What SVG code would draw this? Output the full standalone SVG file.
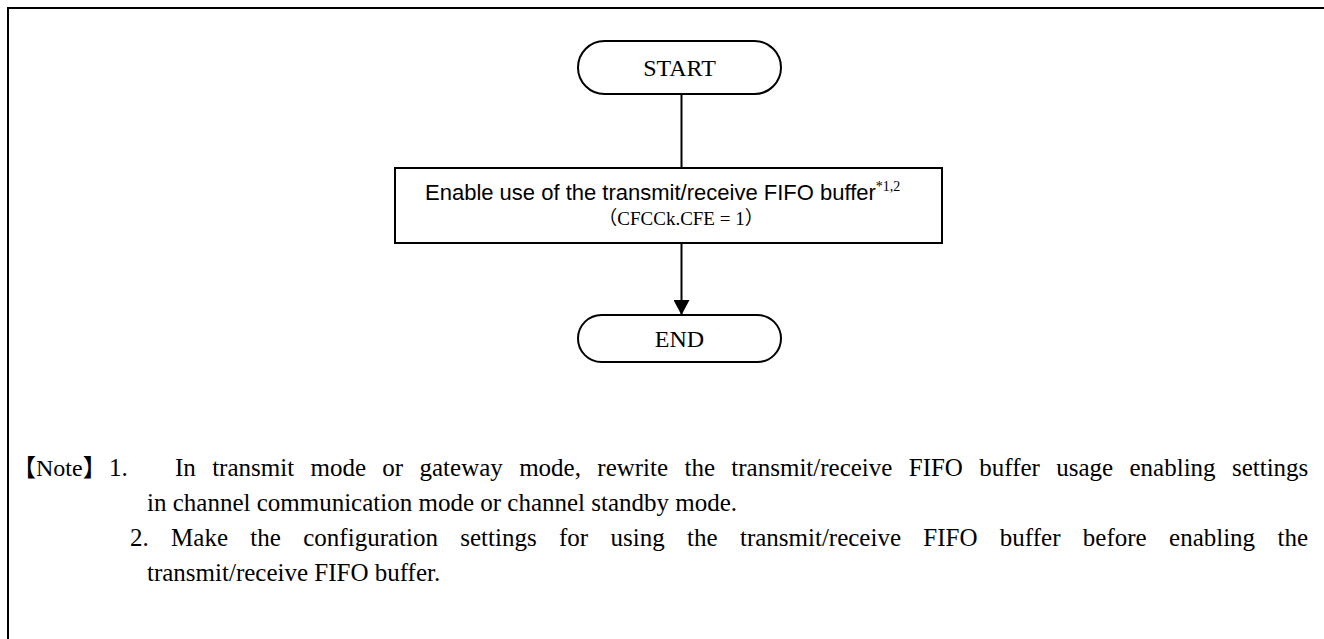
<svg xmlns="http://www.w3.org/2000/svg" width="1324" height="639" viewBox="0 0 1324 639">
<style>
.term{fill:#fff;stroke:#000;stroke-width:2}
.box{fill:#fff;stroke:#000;stroke-width:2}
.serif{font-family:"Liberation Serif","Noto Sans CJK JP",serif;fill:#000}
.sans{font-family:"Liberation Sans",Arial,sans-serif;fill:#000}
.conn{stroke:#000;stroke-width:2;fill:none}
</style>
<defs>
<marker id="arr" markerWidth="16" markerHeight="16" refX="15" refY="8" orient="auto" markerUnits="userSpaceOnUse">
<path d="M0,0 L15,8 L0,16 Z" fill="#000"/>
</marker>
</defs>
<rect width="1324" height="639" fill="#fff"/>
<path d="M8,639 V8 H1324" fill="none" stroke="#000" stroke-width="2"/>
<g id="connectors">
<line class="conn" x1="681.5" y1="94" x2="681.5" y2="168"/>
<line class="conn" x1="681.5" y1="243" x2="681.5" y2="315" marker-end="url(#arr)"/>
</g>
<g id="start">
<rect class="term" x="578" y="41" width="203" height="53" rx="26.5"/>
<text class="serif" x="679.5" y="76" font-size="24" text-anchor="middle">START</text>
</g>
<g id="enable">
<rect class="box" x="395" y="168" width="547" height="75"/>
<text class="sans" x="425" y="200" font-size="22">Enable use of the transmit/receive FIFO buffer<tspan class="serif" font-size="14" dy="-9">*1,2</tspan></text>
<text class="serif" x="681" y="225" font-size="19" text-anchor="middle">（CFCCk.CFE = 1）</text>
</g>
<g id="end">
<rect class="term" x="578" y="315" width="203" height="47" rx="23.5"/>
<text class="serif" x="679.5" y="347" font-size="24" text-anchor="middle">END</text>
</g>
<g id="notes" class="serif" font-size="25">
<text x="12" y="476" font-size="24">【Note】</text>
<text x="109" y="476">1.</text>
<text x="175" y="476" word-spacing="10.1">In transmit mode or gateway mode, rewrite the transmit/receive FIFO buffer usage enabling settings</text>
<text x="147" y="511">in channel communication mode or channel standby mode.</text>
<text x="130" y="546" word-spacing="16.1">2. Make the configuration settings for using the transmit/receive FIFO buffer before enabling the</text>
<text x="147" y="581">transmit/receive FIFO buffer.</text>
</g>
</svg>
